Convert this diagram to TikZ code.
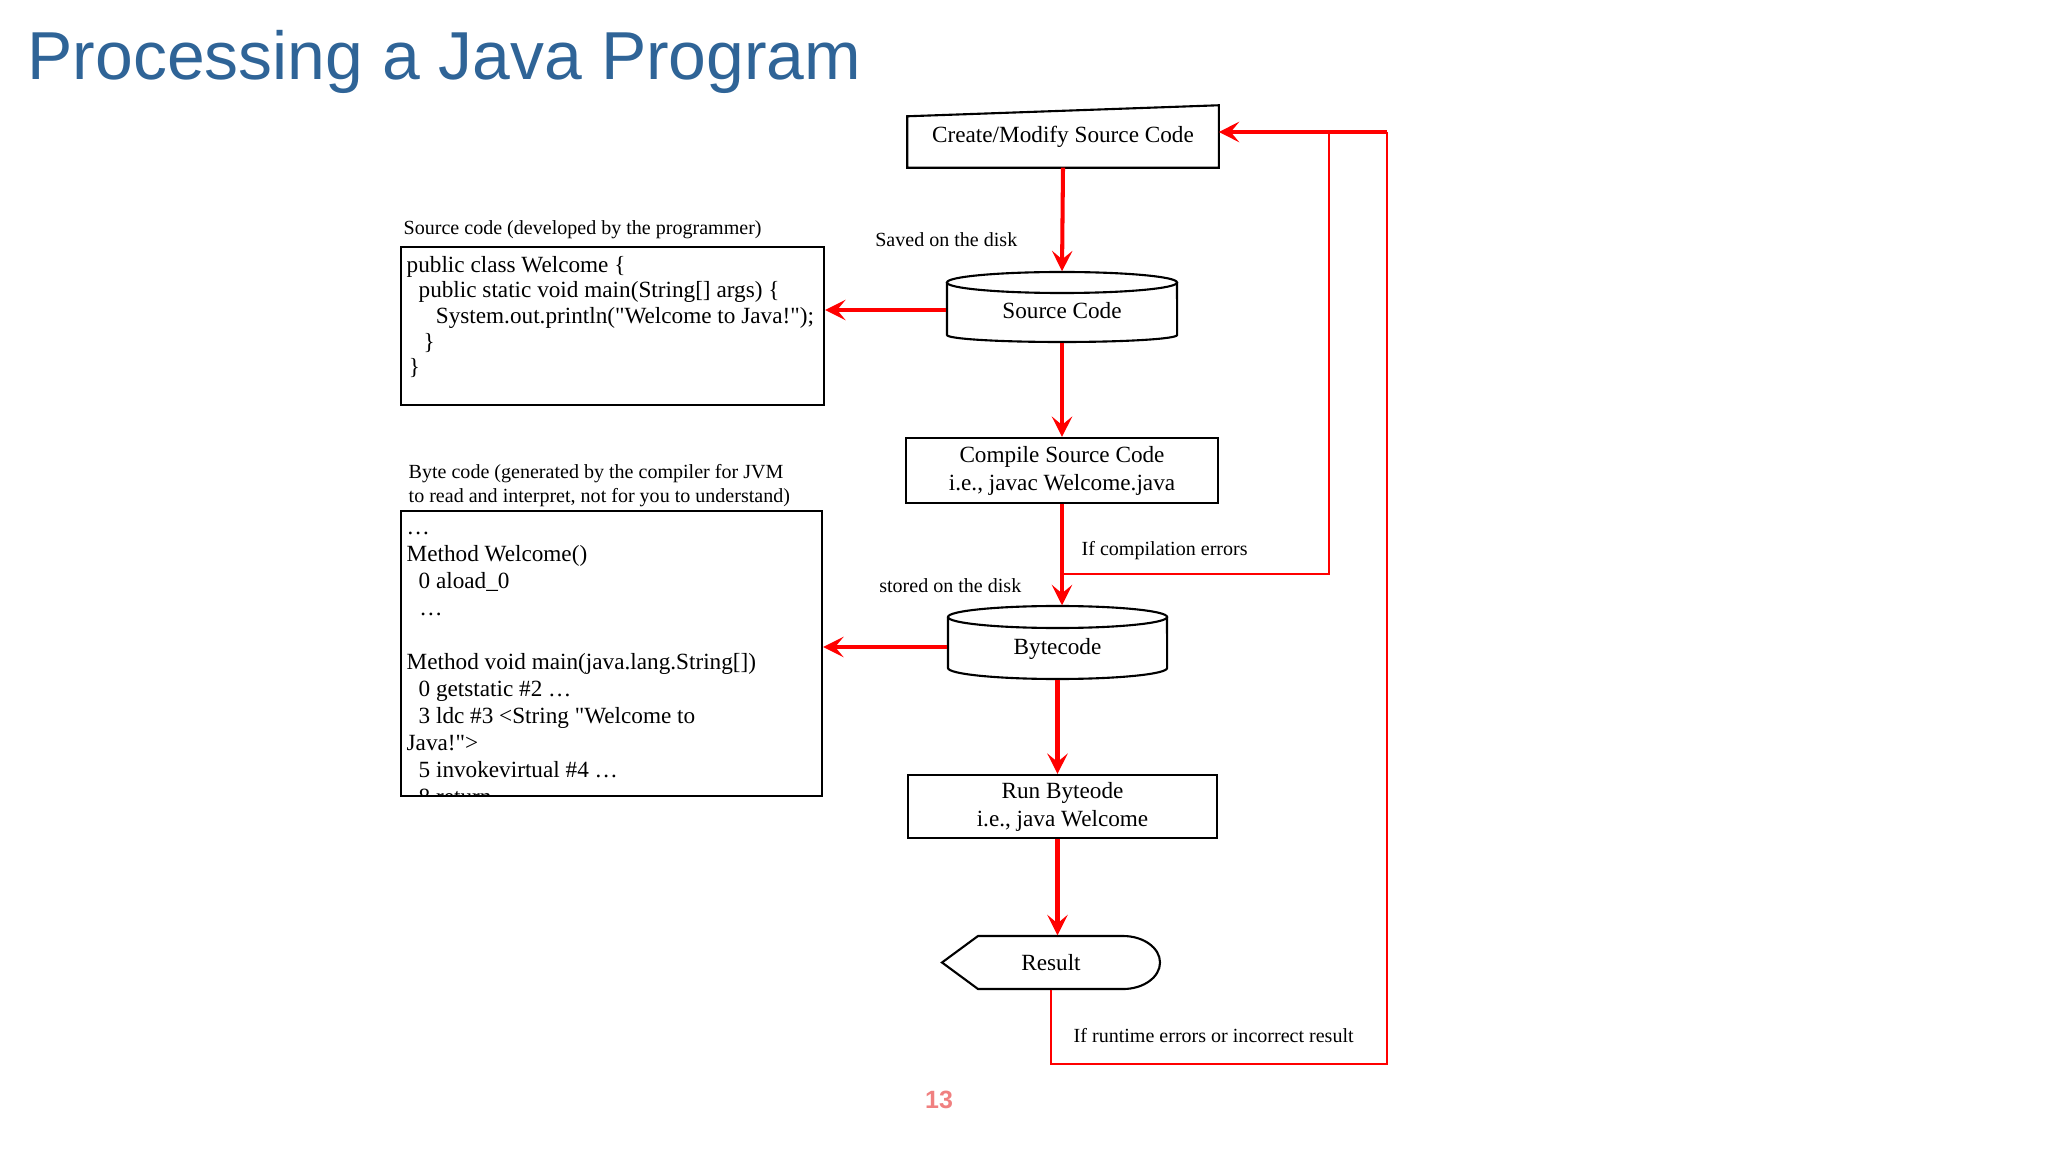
\documentclass[tikz,border=0pt]{standalone}
\usepackage{fontspec}
\setmainfont{Liberation Serif}
\newfontfamily\titlefont{Liberation Sans}
\newfontfamily\codefont[Ligatures=TeXOff]{Liberation Serif}
\usepackage{xcolor}
\usetikzlibrary{calc}
\usetikzlibrary{arrows.meta}
\definecolor{titleblue}{HTML}{2F6497}
\definecolor{pagered}{HTML}{F08080}
\definecolor{flowred}{HTML}{FF0000}

\begin{document}
\begin{tikzpicture}[x=0.01cm, y=-0.01cm,
      every node/.style={inner sep=0pt},
      procline/.style={draw, line width=0.6pt},
      procbox/.style={draw, line width=0.6pt, font=\fontsize{6.6}{8}\selectfont, align=center},
      disk/.style={font=\fontsize{6.6}{8}\selectfont, text height=6.6pt, text depth=0pt},
      flowline/.style={draw=flowred, line width=1.15pt, -{Stealth[length=5.8pt, width=5.8pt, inset=2.4pt]}},
      fbline/.style={draw=flowred, line width=0.6pt},
      note/.style={font=\fontsize{5.7}{6.8}\selectfont, align=left},
      codetext/.style={font=\codefont\fontsize{6.6}{7.3}\selectfont, align=left}]

      \useasboundingbox (0,0) rectangle (2048,1152);

      % title and page number
      \node[anchor=base west, font=\titlefont\fontsize{19.3}{23}\selectfont, text=titleblue] (title) at (27,80) {Processing a Java Program};
      \node[anchor=base, font=\titlefont\bfseries\fontsize{7.1}{8}\selectfont, text=pagered] (pagenum) at (939,1108) {13};

      % flow chart column
      \node[font=\fontsize{6.6}{8}\selectfont, minimum width=3.1cm, minimum height=0.61cm] (create) at (1063,136.5) {Create/Modify Source Code};
      \draw[procline] (create.south west) -- ([yshift=-0.11cm]create.north west) -- (create.north east) -- (create.south east) -- cycle;

      \node[disk, minimum width=2.3cm, minimum height=0.7cm] (srcdisk) at (1062,307) {Source Code};
      \draw[procline] (1062,282.5) ellipse [x radius=1.15cm, y radius=0.105cm];
      \draw[procline] (947,282.5) -- (947,335) arc[start angle=180, end angle=360, x radius=1.15cm, y radius=0.07cm] -- (1177,282.5);

      \node[procbox, minimum width=3.12cm, minimum height=0.65cm] (compile) at (1062,470.5) {Compile Source Code\\i.e., javac Welcome.java};

      \node[disk, minimum width=2.19cm, minimum height=0.73cm] (bytecode) at (1057.5,642.5) {Bytecode};
      \draw[procline] (1057.5,617) ellipse [x radius=1.095cm, y radius=0.11cm];
      \draw[procline] (948,617) -- (948,668) arc[start angle=180, end angle=360, x radius=1.095cm, y radius=0.11cm] -- (1167,617);

      \node[procbox, minimum width=3.09cm, minimum height=0.63cm] (run) at (1062.5,806.5) {Run Byteode\\i.e., java Welcome};

      \node[font=\fontsize{6.6}{8}\selectfont, minimum width=2.18cm, minimum height=0.53cm] (result) at (1051,962.5) {Result};
      \draw[procline] (978,936) -- (1123,936) arc[start angle=90, end angle=-90, x radius=0.37cm, y radius=0.265cm] -- (978,989) -- (942,962.5) -- cycle;

      % source and byte code boxes (nodes anchored at their last line)
      \node[note, anchor=base west] (srclbl) at (403,235) {Source code (developed by the programmer)};
      \node[draw, line width=0.6pt, minimum width=4.23cm, minimum height=1.58cm] (srcbox) at (612.5,326) {};
      \node[codetext, anchor=base west] (srctext) at (406,375) {public class Welcome \{\\
        \hspace*{3.4pt}public static void main(String[] args) \{\\
        \hspace*{8.3pt}System.out.println("Welcome to Java!");\\
        \hspace*{4.8pt}\}\\
        \hspace*{0.6pt}\}};

      \node[note, anchor=base west] (bytelbl) at (408,502) {Byte code (generated by the compiler for JVM\\to read and interpret, not for you to understand)};
      \node[draw, line width=0.6pt, minimum width=4.21cm, minimum height=2.85cm] (bytebox) at (611.5,653.5) {};
      \begin{scope}
        \clip (401,511) rectangle (822,794);
        \node[codetext, font=\codefont\fontsize{6.6}{7.65}\selectfont, anchor=base west] (bytetext) at (406,804) {…\\
          Method Welcome()\\
          \hspace*{3.4pt}0 aload\_0\\
          \hspace*{3.6pt}…\\
          \mbox{}\\
          Method void main(java.lang.String[])\\
          \hspace*{3.4pt}0 getstatic \#2 …\\
          \hspace*{3.4pt}3 ldc \#3 <String "Welcome to\\
          Java!">\\
          \hspace*{3.4pt}5 invokevirtual \#4 …\\
          \hspace*{3.4pt}8 return};
      \end{scope}

      % arrows
      \draw[flowline] (create.south) -- (srcdisk.north);
      \draw[flowline] ([yshift=-0.03cm]srcdisk.west) -- ([yshift=-0.03cm]srcdisk.west -| srcbox.east);
      \draw[flowline] (srcdisk.south) -- (compile.north);
      \draw[flowline] (compile.south) -- (compile.south |- bytecode.north);
      \draw[flowline] ([yshift=-0.045cm]bytecode.west) -- ([yshift=-0.045cm]bytecode.west -| bytebox.east);
      \draw[flowline] (bytecode.south) -- (bytecode.south |- run.north);
      \draw[flowline] (bytecode.south |- run.south) -- (bytecode.south |- result.north);

      % error loops back to the editor
      \coordinate (topjoin) at (1329,132);
      \coordinate (topright) at (1387,132);
      \coordinate (botright) at (1387,1064);
      \draw[fbline] ($(compile.south)+(0,70)$) -| (topjoin);
      \draw[fbline] (result.south) |- (botright) -- (topright);
      \draw[flowline, line width=0.95pt] (topright) -- (topright -| create.east);

      \node[note, anchor=base east] (savedlbl) at (1018,247) {Saved on the disk};
      \node[note, anchor=base east] (storedlbl) at (1022,593) {stored on the disk};
      \node[note, anchor=base west] (complbl) at (1081,555) {If compilation errors};
      \node[note, anchor=base west] (runlbl) at (1073,1042) {If runtime errors or incorrect result};
\end{tikzpicture}
\end{document}
